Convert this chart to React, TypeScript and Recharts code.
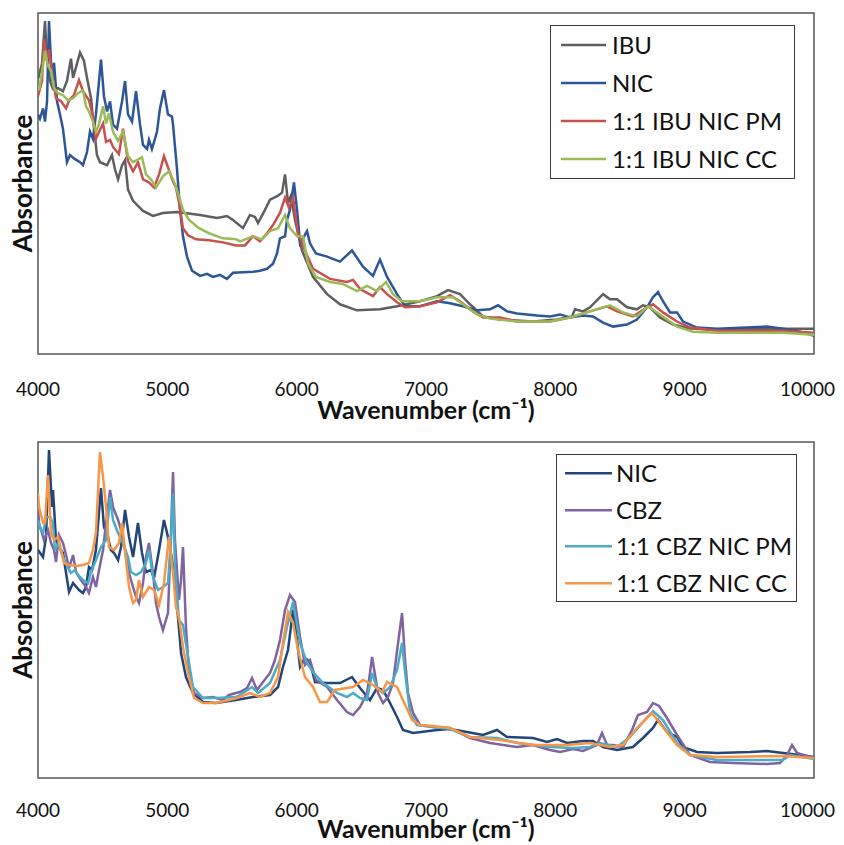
import React from 'react';
import { LineChart, Line, XAxis, YAxis, ReferenceArea, Legend } from 'recharts';

type Pt = [number, number];

// wavenumber (cm-1), absorbance (arbitrary units)
const WAVENUMBER_TICKS = [4000, 5000, 6000, 7000, 8000, 9000, 10000];

const IBU: Pt[] = [
  [4000, 2.71], [4031, 2.86], [4054, 3.28], [4070, 2.89], [4093, 2.69], [4116, 2.61], [4155, 2.62],
  [4193, 2.59], [4224, 2.69], [4255, 2.91], [4271, 2.72], [4325, 2.97], [4355, 2.89], [4379, 2.72],
  [4410, 2.52], [4425, 2.32], [4456, 1.96], [4479, 1.89], [4534, 1.86], [4572, 1.96], [4595, 1.82],
  [4619, 1.72], [4650, 1.86], [4673, 1.91], [4696, 1.62], [4735, 1.51], [4812, 1.41], [4889, 1.36],
  [4966, 1.39], [5075, 1.40], [5253, 1.37], [5384, 1.34], [5461, 1.36], [5508, 1.32], [5585, 1.24],
  [5639, 1.37], [5678, 1.35], [5701, 1.29], [5755, 1.42], [5794, 1.52], [5856, 1.56], [5887, 1.59],
  [5910, 1.77], [5933, 1.49], [5956, 1.56], [5987, 1.32], [6041, 1.02], [6126, 0.76], [6235, 0.59],
  [6335, 0.49], [6466, 0.43], [6644, 0.44], [6776, 0.47], [6954, 0.52], [7085, 0.57], [7170, 0.63],
  [7263, 0.59], [7340, 0.49], [7441, 0.37], [7572, 0.34], [7827, 0.32], [8013, 0.34], [8129, 0.37],
  [8152, 0.44], [8214, 0.42], [8268, 0.46], [8369, 0.59], [8423, 0.54], [8477, 0.54], [8554, 0.46],
  [8631, 0.44], [8678, 0.48], [8732, 0.46], [8809, 0.36], [8910, 0.29], [9041, 0.25], [9250, 0.24],
  [9505, 0.25], [9760, 0.25], [10000, 0.25],
];

const NIC_TOP: Pt[] = [
  [4000, 2.36], [4015, 2.32], [4039, 2.42], [4054, 2.29], [4070, 2.49], [4085, 3.28], [4108, 2.69],
  [4124, 2.87], [4147, 2.49], [4170, 2.36], [4193, 2.22], [4224, 1.89], [4247, 1.96], [4286, 1.92],
  [4325, 1.89], [4348, 1.86], [4379, 1.99], [4402, 2.19], [4425, 2.12], [4448, 2.36], [4487, 2.90],
  [4510, 2.54], [4534, 2.39], [4557, 2.49], [4580, 2.26], [4611, 2.22], [4650, 2.49], [4673, 2.69],
  [4696, 2.36], [4727, 2.29], [4758, 2.59], [4789, 2.26], [4812, 2.06], [4843, 2.02], [4858, 2.11],
  [4881, 2.02], [4920, 2.19], [4943, 2.42], [4974, 2.60], [5005, 2.36], [5036, 2.34], [5044, 2.26],
  [5075, 1.82], [5098, 1.42], [5121, 1.16], [5152, 0.96], [5191, 0.82], [5253, 0.77], [5307, 0.79],
  [5353, 0.76], [5407, 0.78], [5461, 0.74], [5508, 0.80], [5662, 0.81], [5716, 0.82], [5771, 0.84],
  [5817, 0.89], [5848, 0.99], [5871, 1.14], [5910, 1.16], [5925, 1.32], [5948, 1.42], [5979, 1.69],
  [6003, 1.42], [6026, 1.09], [6080, 1.21], [6103, 1.09], [6149, 0.99], [6235, 0.96], [6335, 0.91],
  [6428, 1.02], [6513, 0.86], [6590, 0.77], [6644, 0.93], [6699, 0.76], [6776, 0.59], [6838, 0.47],
  [6954, 0.47], [7085, 0.52], [7186, 0.50], [7286, 0.47], [7394, 0.43], [7495, 0.44], [7557, 0.48],
  [7626, 0.42], [7704, 0.40], [7858, 0.38], [7959, 0.37], [8036, 0.39], [8113, 0.36], [8214, 0.38],
  [8291, 0.37], [8369, 0.31], [8446, 0.27], [8554, 0.29], [8631, 0.34], [8709, 0.46], [8755, 0.56],
  [8794, 0.61], [8832, 0.52], [8887, 0.41], [8941, 0.41], [8987, 0.32], [9095, 0.26], [9250, 0.25],
  [9637, 0.27], [9760, 0.25], [9892, 0.22], [10000, 0.18],
];

const IBU_NIC_PM: Pt[] = [
  [4000, 2.54], [4031, 2.69], [4046, 3.10], [4070, 2.89], [4085, 3.00], [4116, 2.70], [4139, 2.52],
  [4178, 2.49], [4217, 2.42], [4240, 2.50], [4278, 2.55], [4317, 2.70], [4348, 2.59], [4394, 2.50],
  [4425, 2.34], [4448, 2.12], [4472, 2.19], [4503, 2.27], [4526, 2.09], [4557, 2.11], [4580, 2.04],
  [4626, 1.97], [4657, 2.22], [4696, 1.90], [4735, 1.80], [4773, 1.89], [4812, 1.72], [4858, 1.69],
  [4897, 1.64], [4936, 1.77], [4974, 1.95], [5005, 1.84], [5044, 1.70], [5067, 1.64], [5098, 1.44],
  [5121, 1.24], [5160, 1.17], [5222, 1.13], [5322, 1.12], [5430, 1.10], [5531, 1.07], [5601, 1.07],
  [5662, 1.16], [5716, 1.11], [5771, 1.19], [5817, 1.27], [5871, 1.39], [5910, 1.54], [5941, 1.44],
  [5972, 1.54], [6010, 1.19], [6064, 1.02], [6126, 0.84], [6258, 0.74], [6389, 0.71], [6436, 0.73],
  [6490, 0.64], [6590, 0.57], [6644, 0.66], [6699, 0.59], [6776, 0.51], [6838, 0.46], [6954, 0.47],
  [7085, 0.51], [7186, 0.58], [7263, 0.52], [7363, 0.42], [7441, 0.36], [7572, 0.36], [7704, 0.32],
  [7959, 0.32], [8113, 0.36], [8268, 0.42], [8400, 0.47], [8477, 0.42], [8600, 0.37], [8709, 0.46],
  [8755, 0.49], [8832, 0.41], [8941, 0.32], [9041, 0.26], [9250, 0.23], [9760, 0.23], [10000, 0.21],
];

const IBU_NIC_CC: Pt[] = [
  [4000, 2.64], [4008, 2.60], [4039, 2.84], [4054, 2.99], [4077, 2.84], [4101, 2.79], [4124, 2.62],
  [4155, 2.57], [4193, 2.55], [4232, 2.50], [4271, 2.52], [4309, 2.57], [4348, 2.60], [4371, 2.44],
  [4394, 2.39], [4425, 2.29], [4448, 2.19], [4472, 2.27], [4503, 2.44], [4526, 2.27], [4549, 2.37],
  [4580, 2.19], [4619, 2.10], [4657, 2.19], [4696, 1.95], [4735, 1.89], [4765, 1.91], [4804, 1.94],
  [4835, 1.77], [4874, 1.72], [4912, 1.64], [4966, 1.75], [5013, 1.80], [5044, 1.72], [5067, 1.65],
  [5090, 1.55], [5121, 1.42], [5168, 1.32], [5245, 1.24], [5322, 1.19], [5430, 1.14], [5531, 1.13],
  [5562, 1.11], [5662, 1.16], [5732, 1.13], [5794, 1.21], [5856, 1.24], [5910, 1.37], [5948, 1.24],
  [6003, 1.16], [6049, 1.16], [6088, 0.89], [6149, 0.76], [6258, 0.71], [6358, 0.69], [6466, 0.62],
  [6544, 0.67], [6621, 0.62], [6691, 0.71], [6745, 0.59], [6815, 0.52], [6954, 0.52], [7085, 0.56],
  [7209, 0.56], [7286, 0.49], [7394, 0.39], [7495, 0.35], [7704, 0.32], [7959, 0.32], [8113, 0.36],
  [8268, 0.42], [8423, 0.48], [8523, 0.41], [8631, 0.37], [8717, 0.47], [8809, 0.39], [8941, 0.27],
  [9064, 0.22], [9250, 0.21], [9760, 0.21], [10000, 0.19],
];

const NIC_BOTTOM: Pt[] = [
  [4000, 2.28], [4039, 2.21], [4062, 2.41], [4085, 3.28], [4108, 2.71], [4116, 2.88], [4139, 2.38],
  [4162, 2.31], [4193, 2.25], [4217, 2.05], [4240, 1.86], [4271, 1.95], [4317, 1.88], [4348, 1.85],
  [4371, 1.91], [4394, 2.11], [4418, 2.08], [4448, 2.28], [4487, 2.90], [4510, 2.51], [4541, 2.41],
  [4564, 2.28], [4588, 2.25], [4619, 2.18], [4642, 2.31], [4673, 2.68], [4704, 2.41], [4735, 2.21],
  [4773, 2.55], [4804, 2.25], [4835, 2.06], [4874, 2.08], [4897, 2.00], [4936, 2.28], [4974, 2.58],
  [5005, 2.41], [5028, 2.25], [5052, 2.05], [5082, 1.61], [5106, 1.25], [5144, 1.01], [5198, 0.85],
  [5276, 0.76], [5376, 0.75], [5531, 0.78], [5662, 0.81], [5794, 0.83], [5856, 0.91], [5894, 1.11],
  [5933, 1.28], [5972, 1.68], [6003, 1.38], [6026, 1.11], [6064, 1.20], [6103, 1.16], [6142, 0.96],
  [6235, 0.95], [6335, 0.95], [6428, 1.01], [6490, 0.90], [6567, 0.78], [6621, 0.90], [6668, 0.88],
  [6722, 0.75], [6776, 0.61], [6822, 0.48], [6900, 0.45], [7085, 0.48], [7186, 0.49], [7317, 0.46],
  [7441, 0.43], [7549, 0.48], [7626, 0.41], [7827, 0.40], [7936, 0.36], [8013, 0.39], [8090, 0.35],
  [8214, 0.37], [8291, 0.37], [8369, 0.31], [8477, 0.28], [8600, 0.31], [8678, 0.40], [8755, 0.50],
  [8794, 0.58], [8863, 0.46], [8941, 0.41], [8987, 0.31], [9095, 0.26], [9250, 0.25], [9505, 0.26],
  [9637, 0.27], [9760, 0.25], [9892, 0.23], [10000, 0.21],
];

const CBZ: Pt[] = [
  [4000, 2.71], [4008, 2.55], [4046, 2.38], [4077, 2.48], [4101, 2.35], [4124, 2.28], [4139, 2.16],
  [4162, 2.43], [4193, 2.35], [4217, 2.23], [4240, 2.10], [4271, 2.23], [4294, 2.06], [4332, 1.98],
  [4371, 1.91], [4394, 1.85], [4425, 2.01], [4448, 1.91], [4472, 2.08], [4503, 2.28], [4526, 2.55],
  [4557, 2.88], [4580, 2.71], [4619, 2.58], [4642, 2.48], [4673, 2.28], [4704, 2.05], [4735, 1.91],
  [4758, 1.81], [4781, 1.75], [4812, 1.95], [4835, 2.21], [4858, 2.35], [4889, 2.05], [4912, 1.75],
  [4936, 1.61], [4966, 1.48], [5005, 1.65], [5021, 2.18], [5044, 3.06], [5059, 2.38], [5090, 1.78],
  [5106, 1.98], [5121, 2.31], [5144, 1.51], [5168, 1.05], [5206, 0.85], [5276, 0.80], [5353, 0.81],
  [5430, 0.78], [5477, 0.83], [5531, 0.85], [5562, 0.86], [5616, 0.90], [5655, 1.00], [5693, 0.88],
  [5740, 0.96], [5794, 1.05], [5832, 1.18], [5871, 1.38], [5910, 1.68], [5948, 1.83], [5987, 1.76],
  [6026, 1.41], [6064, 1.13], [6103, 1.18], [6149, 0.98], [6235, 0.91], [6312, 0.78], [6389, 0.66],
  [6436, 0.63], [6490, 0.71], [6544, 0.85], [6567, 1.05], [6583, 1.21], [6606, 1.03], [6629, 0.85],
  [6668, 0.75], [6706, 0.81], [6745, 0.95], [6784, 1.35], [6815, 1.65], [6838, 1.18], [6861, 0.85],
  [6900, 0.65], [6954, 0.53], [7054, 0.51], [7186, 0.50], [7340, 0.40], [7495, 0.35], [7704, 0.31],
  [7827, 0.33], [7959, 0.28], [8036, 0.26], [8137, 0.29], [8214, 0.27], [8322, 0.33], [8361, 0.45],
  [8400, 0.33], [8446, 0.33], [8523, 0.31], [8593, 0.48], [8639, 0.63], [8709, 0.66], [8755, 0.75],
  [8802, 0.72], [8863, 0.60], [8941, 0.43], [9041, 0.23], [9196, 0.16], [9374, 0.15], [9637, 0.14],
  [9737, 0.15], [9791, 0.23], [9830, 0.33], [9869, 0.25], [10000, 0.20],
];

const CBZ_NIC_PM: Pt[] = [
  [4000, 2.58], [4023, 2.48], [4039, 2.45], [4062, 2.61], [4093, 2.61], [4116, 2.55], [4131, 2.28],
  [4155, 2.35], [4193, 2.21], [4232, 2.10], [4255, 2.05], [4286, 2.08], [4309, 2.03], [4348, 1.98],
  [4387, 1.95], [4410, 2.06], [4448, 2.18], [4487, 2.31], [4526, 2.38], [4557, 2.81], [4580, 2.58],
  [4619, 2.45], [4657, 2.35], [4696, 2.21], [4719, 2.06], [4758, 2.03], [4796, 2.06], [4835, 2.15],
  [4858, 2.28], [4889, 2.01], [4928, 1.88], [4966, 1.91], [5005, 1.95], [5028, 2.38], [5044, 2.85],
  [5059, 2.11], [5090, 1.58], [5121, 1.53], [5160, 1.21], [5198, 0.91], [5276, 0.80], [5376, 0.80],
  [5531, 0.81], [5562, 0.83], [5655, 0.91], [5701, 0.85], [5794, 0.95], [5871, 1.18], [5925, 1.51],
  [5972, 1.76], [6026, 1.35], [6080, 1.15], [6126, 1.06], [6204, 0.95], [6312, 0.85], [6389, 0.81],
  [6436, 0.85], [6490, 0.80], [6544, 0.78], [6583, 1.05], [6621, 0.90], [6668, 0.85], [6722, 0.91],
  [6776, 1.08], [6815, 1.35], [6838, 1.06], [6877, 0.65], [6930, 0.53], [7054, 0.51], [7186, 0.49],
  [7340, 0.41], [7549, 0.40], [7704, 0.35], [7959, 0.31], [8137, 0.30], [8268, 0.31], [8345, 0.35],
  [8477, 0.31], [8577, 0.41], [8678, 0.56], [8755, 0.67], [8832, 0.58], [8941, 0.35], [9041, 0.23],
  [9250, 0.18], [9505, 0.18], [9760, 0.18], [9814, 0.23], [10000, 0.19],
];

const CBZ_NIC_CC: Pt[] = [
  [4000, 2.85], [4008, 2.71], [4039, 2.55], [4054, 2.55], [4077, 3.03], [4101, 2.45], [4124, 2.38],
  [4155, 2.41], [4178, 2.28], [4201, 2.15], [4240, 2.13], [4294, 2.12], [4348, 2.13], [4394, 2.15],
  [4425, 2.28], [4448, 2.45], [4479, 3.26], [4503, 3.01], [4526, 2.71], [4549, 2.31], [4588, 2.28],
  [4626, 2.35], [4650, 2.55], [4680, 2.18], [4704, 1.91], [4735, 1.75], [4758, 1.78], [4781, 1.98],
  [4812, 1.81], [4858, 1.91], [4897, 1.88], [4936, 1.73], [4974, 1.95], [5013, 2.41], [5044, 2.05],
  [5067, 1.71], [5090, 1.61], [5121, 1.31], [5160, 1.05], [5206, 0.80], [5276, 0.75], [5376, 0.75],
  [5477, 0.78], [5539, 0.80], [5639, 0.85], [5716, 0.81], [5794, 0.85], [5856, 1.01], [5894, 1.35],
  [5933, 1.66], [5972, 1.55], [6010, 1.28], [6064, 1.01], [6126, 0.91], [6180, 0.76], [6235, 0.76],
  [6296, 0.88], [6389, 0.90], [6436, 0.91], [6513, 0.98], [6590, 0.93], [6660, 0.86], [6699, 0.96],
  [6776, 0.91], [6822, 0.78], [6892, 0.58], [6954, 0.53], [7054, 0.52], [7186, 0.50], [7340, 0.41],
  [7572, 0.38], [7827, 0.33], [8090, 0.33], [8268, 0.35], [8423, 0.31], [8523, 0.33], [8631, 0.50],
  [8747, 0.65], [8832, 0.51], [8941, 0.33], [9041, 0.23], [9250, 0.21], [9760, 0.22], [10000, 0.20],
];

const toRows = (pts: Pt[]) => pts.map(([w, a]) => ({ w, a }));

const FONT = 'Lato, "Open Sans", "DejaVu Sans", sans-serif';

interface Series { name: string; color: string; data: Pt[] }

const TOP_SERIES: Series[] = [
  { name: 'IBU', color: '#5f5f5f', data: IBU },
  { name: 'NIC', color: '#2c5697', data: NIC_TOP },
  { name: '1:1 IBU NIC PM', color: '#c8504d', data: IBU_NIC_PM },
  { name: '1:1 IBU NIC CC', color: '#9bbb59', data: IBU_NIC_CC },
];

const BOTTOM_SERIES: Series[] = [
  { name: 'NIC', color: '#22467a', data: NIC_BOTTOM },
  { name: 'CBZ', color: '#8064a2', data: CBZ },
  { name: '1:1 CBZ NIC PM', color: '#4bacc6', data: CBZ_NIC_PM },
  { name: '1:1 CBZ NIC CC', color: '#f79646', data: CBZ_NIC_CC },
];

const CHART_W = 828;

interface PanelProps {
  series: Series[];
  height: number;
  marginTop: number;
  marginBottom: number;
  tickBaseline: number;
  titleBaseline: number;
  legend: { left: number; top: number; width: number; row: number; lineFrom: number; lineTo: number; textAt: number };
}

const SpectrumPanel: React.FC<PanelProps> = ({ series, height, marginTop, marginBottom, tickBaseline, titleBaseline, legend }) => {
  // the last label would run past the page edge, so it is pulled in like Excel does
  const renderTick = (p: any) => {
    const last = p.payload.value === 10000;
    return (
      <text
        x={last ? CHART_W - 1 : p.x} y={p.y + tickBaseline} textAnchor={last ? 'end' : 'middle'}
        fontSize={19} fontFamily={FONT} fill="#111"
      >
        {p.payload.value}
      </text>
    );
  };

  const renderXTitle = (p: any) => {
    const vb = p.viewBox;
    return (
      <text x={vb.x + vb.width / 2} y={vb.y + titleBaseline} textAnchor="middle" fontSize={25} fontWeight={700} fontFamily={FONT} fill="#111">
        Wavenumber (cm⁻¹)
      </text>
    );
  };

  const renderYTitle = (p: any) => {
    const vb = p.viewBox;
    const cx = 24;
    const cy = vb.y + vb.height / 2;
    return (
      <text x={cx} y={cy} transform={`rotate(-90, ${cx}, ${cy})`} textAnchor="middle" fontSize={26} fontWeight={700} fontFamily={FONT} fill="#111">
        Absorbance
      </text>
    );
  };

  // legend rows follow the series order, like the original figure
  const renderLegend = () => (
    <div style={{
      width: legend.width, boxSizing: 'border-box', border: '1.5px solid #3a3a3a', background: '#fff',
      fontFamily: FONT, fontSize: 24, color: '#111', position: 'relative',
    }}>
      {series.map((s) => (
        <div key={s.name} style={{ position: 'relative', height: legend.row }}>
          <svg width={legend.lineTo} height={legend.row} style={{ position: 'absolute', left: 0, top: 0 }}>
            <line x1={legend.lineFrom} x2={legend.lineTo} y1={legend.row / 2} y2={legend.row / 2} stroke={s.color} strokeWidth={2.5} />
          </svg>
          <span style={{ position: 'absolute', left: legend.textAt, top: 0, lineHeight: `${legend.row}px`, whiteSpace: 'nowrap' }}>
            {s.name}
          </span>
        </div>
      ))}
    </div>
  );

  return (
    <LineChart width={CHART_W} height={height} margin={{ top: marginTop, right: 22, left: 0, bottom: marginBottom }}>
      <XAxis
        dataKey="w" type="number" domain={[4000, 10000]} ticks={WAVENUMBER_TICKS} interval={0}
        allowDataOverflow axisLine={false} tickLine={false} tickSize={0} tickMargin={0}
        height={70} tick={renderTick} label={{ content: renderXTitle }}
      />
      <YAxis
        type="number" domain={[0, 3.36]} allowDataOverflow width={30}
        tick={false} axisLine={false} tickLine={false} label={{ content: renderYTitle }}
      />
      <ReferenceArea x1={4000} x2={10000} y1={0} y2={3.36} fill="none" fillOpacity={0} stroke="#555" strokeWidth={1.5} />
      {series.map((s) => (
        <Line
          key={s.name} name={s.name} data={toRows(s.data)} dataKey="a" type="linear"
          stroke={s.color} strokeWidth={2.5} dot={false} activeDot={false} isAnimationActive={false}
        />
      ))}
      <Legend
        layout="vertical" align="center" verticalAlign="middle" content={renderLegend}
        wrapperStyle={{ left: legend.left, top: legend.top, width: legend.width, height: 'auto' }}
      />
    </LineChart>
  );
};

export default function App() {
  return (
    <div style={{ width: CHART_W }}>
      <SpectrumPanel
        series={TOP_SERIES} height={430} marginTop={5} marginBottom={14}
        tickBaseline={42} titleBaseline={65}
        legend={{ left: 542, top: 17, width: 245, row: 38, lineFrom: 10, lineTo: 55, textAt: 61 }}
      />
      <SpectrumPanel
        series={BOTTOM_SERIES} height={407} marginTop={4} marginBottom={-3}
        tickBaseline={39} titleBaseline={60}
        legend={{ left: 548, top: 16, width: 241, row: 36.5, lineFrom: 8, lineTo: 55, textAt: 59 }}
      />
    </div>
  );
}
